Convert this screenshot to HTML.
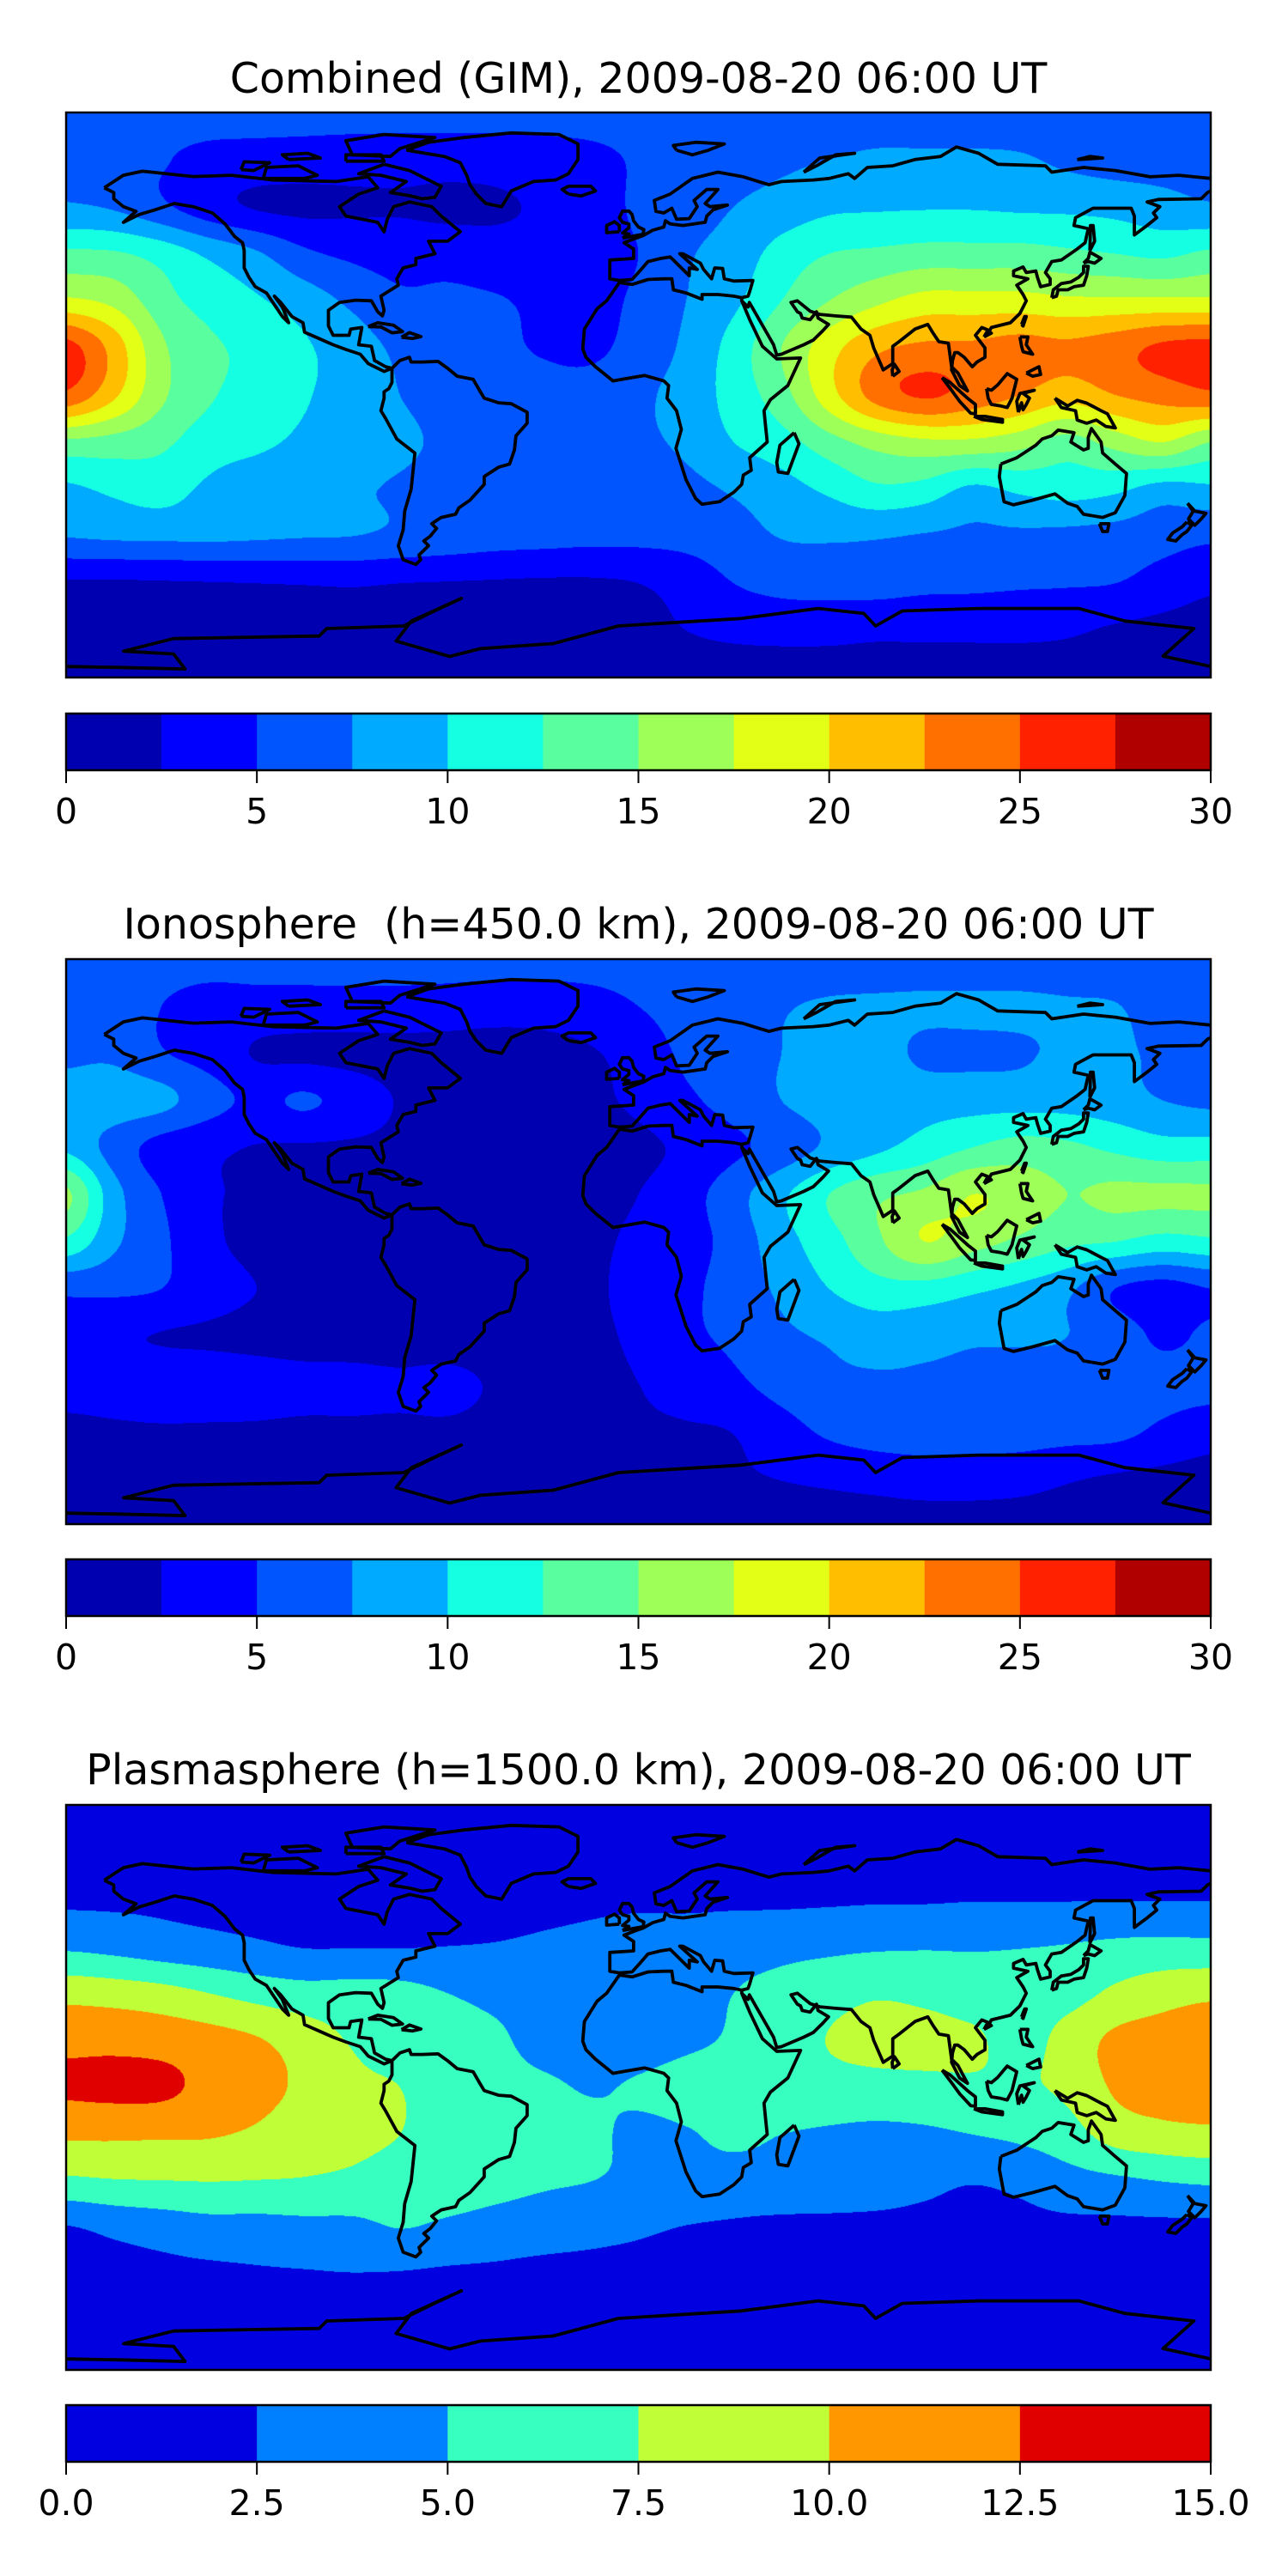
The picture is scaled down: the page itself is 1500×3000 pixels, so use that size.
<!DOCTYPE html>
<html>
<head>
<meta charset="utf-8">
<style>
  html,body{margin:0;padding:0;background:#fff;}
  #root{position:relative;width:1500px;height:3000px;overflow:hidden;background:#fff;}
  canvas{position:absolute;}
  svg{position:absolute;left:0;top:0;}
</style>
</head>
<body>
<div id="root">
  <canvas id="c0"></canvas>
  <canvas id="c1"></canvas>
  <canvas id="c2"></canvas>
  <svg id="ov" width="1500" height="3000" xmlns="http://www.w3.org/2000/svg">
    <text x="743.5" y="108" text-anchor="middle" font-family="DejaVu Sans, Liberation Sans, sans-serif" font-size="49">Combined (GIM), 2009-08-20 06:00 UT</text>
    <text x="743.5" y="1093" text-anchor="middle" font-family="DejaVu Sans, Liberation Sans, sans-serif" font-size="49" xml:space="preserve">Ionosphere  (h=450.0 km), 2009-08-20 06:00 UT</text>
    <text x="743.5" y="2078" text-anchor="middle" font-family="DejaVu Sans, Liberation Sans, sans-serif" font-size="49">Plasmasphere (h=1500.0 km), 2009-08-20 06:00 UT</text>
  </svg>
</div>
<script>
// ---------- data ----------
const lons = [-180,-165,-150,-135,-120,-105,-90,-75,-60,-45,-30,-15,0,15,30,45,60,75,90,105,120,135,150,165,180];
const lats = [90,75,60,45,30,15,0,-15,-30,-45,-60,-75,-90];

const combinedTec = [
 [6,6,6,6,6,6,6,6,6,6,6,6,6,6,6,6,6,6,6,6,6,6,6,6,6],
 [6.5,6,5.2,4.3,4,3.8,3.6,3.5,3.5,3.5,3.8,4.3,5.3,6,6.5,7,7.5,8,8,8,7.8,7,6.5,6.5,6.5],
 [7.8,7.2,5.5,3.5,2.3,2,2.2,2.3,2,2.2,2.8,3.5,5.5,6.5,7.5,8.5,9.5,9.7,9.8,9.8,9.6,9.5,9.2,8.5,7.8],
 [13,12.8,11.5,9.5,7.8,5.5,4.5,4,4,3.5,3.5,4,5,7.2,8.5,11,12.5,13,13.5,13.5,13.5,13,12.5,12,13],
 [18,16.8,13.5,11.5,10.3,8.8,7,5.5,5.5,5.2,4.5,4.2,5.5,7.5,9.5,12.5,15,17,18.5,18.5,18.5,18,18,18,18],
 [26,21.5,15.5,13,11.8,10.3,8.7,7,6,5.5,4.8,4.5,6,8,11,15,19,22,23,23,23.5,23,24,25.5,26],
 [24.5,20.5,15.5,12.8,11.5,10.2,9,7.5,6.5,6,5.8,6,7,8.5,11,14,19,23.5,25.3,24,22.5,21,22.5,23.5,24.5],
 [14.5,14,13,11.2,10.5,9.5,8.6,8,7,6.5,6,6.3,7,8,10,11.5,14,16,17,17,16,14,16,17.5,15],
 [9.5,10.5,11,9.5,8.5,8,7.8,7.2,6.5,6,5.8,5.8,6,6.8,7.8,9,10.5,12,11.5,9.5,10.5,11,10.5,9,9.5],
 [7.6,7.9,8,8,7.8,7.6,7.5,7,6.5,6,5.8,5.6,5.6,5.8,6.5,7.6,7.8,7.7,7.3,7,7,6.8,6.5,6,5.5],
 [2.2,2.2,2.3,2.4,2.5,2.6,2.7,2.5,2.4,2.3,2.2,2.2,2.5,3.5,5,5.8,6,6,5.6,5.5,5.3,5.2,5,4,3],
 [1.5,1.5,1.6,1.8,2,2,2,2,1.8,1.8,1.8,1.8,1.8,2.5,3,3.2,3.2,3,3,3,3,2.8,2.2,1.8,1.5],
 [1.5,1.5,1.5,1.5,1.5,1.5,1.5,1.5,1.5,1.5,1.5,1.5,1.5,1.5,1.5,1.5,1.5,1.5,1.5,1.5,1.5,1.5,1.5,1.5,1.5]
];

const ionoTec = [
 [6,6,6,6,6,6,6,6,6,6,6,6,6,6,6,6,6,6,6,6,6,6,6,6,6],
 [6,6,5,4,4,4,4,4,3.8,3.5,3.5,4,5,6,6.5,7.3,7.8,8,8,8,8,7.8,7.6,6.5,6],
 [7,7,5.2,4,2.3,2,1.8,1.7,1.6,1.6,1.8,2.3,3.5,5.5,6.5,7.5,8,8.5,7,7,7.2,8,8,7,7],
 [8.6,8.8,8.2,6,4.5,5.3,4,2.3,1.5,1.5,1.5,2,3,4.5,6,7.5,8.5,9,9,9,9,9,8.5,7.5,7],
 [9.5,6.5,4,3,2.4,2.3,2.2,2,1.5,1.5,1.5,1.5,2,3,4.5,6,8,9.5,11,12.5,13.5,13,12,11,11],
 [15.5,8.5,5,2.8,2.3,2.2,2,2,1.5,1.5,1.5,1.8,2.5,4,6.5,9.5,12.5,14.5,15.5,17.5,16.5,15,15.5,15.5,15.5],
 [12,8,5.5,3,2,2,2,2,1.5,1.5,1.5,2,3,4,6,9,11.5,14.5,17.5,16,14.5,13,12.5,11.5,12],
 [5.5,5.5,5,3.5,2.5,2.2,2,1.7,1.6,1.6,1.7,2,3.5,4.5,6,8,10,11.5,11.5,10.5,9.5,8,5,4,5],
 [4.5,3,2.4,2.2,2,1.8,1.7,1.6,1.5,1.5,1.7,2,3,4.5,5.5,7,7.8,8.5,8.2,7.8,7.7,7.5,6.5,4.5,5.5],
 [3.5,3.5,3.8,3.5,3.2,3,3,2.8,3,2.3,2,2,2.5,3.5,4.5,6,7,7.2,7.2,7.2,7.2,7,6.5,6,6],
 [2,2.2,2.3,2.3,2.3,2.2,2.2,2.2,2.2,2,2,2,2.2,2.3,2.6,4,5.5,6.2,6.3,6.2,6.2,6,5.8,4.5,3.5],
 [1.5,1.5,1.5,1.5,1.5,1.5,1.5,1.5,1.5,1.5,1.5,1.5,1.6,1.8,2.2,2.6,3,3.4,3.8,3.8,3.5,2.8,2.3,2,1.8],
 [1.5,1.5,1.5,1.5,1.5,1.5,1.5,1.5,1.5,1.5,1.5,1.5,1.5,1.5,1.5,1.5,1.5,1.5,1.5,1.5,1.5,1.5,1.5,1.5,1.5]
];

const plasmaTec = [
 [1.5,1.5,1.5,1.5,1.5,1.5,1.5,1.5,1.5,1.5,1.5,1.5,1.5,1.5,1.5,1.5,1.5,1.5,1.5,1.5,1.5,1.5,1.5,1.5,1.5],
 [1.5,1.5,1.5,1.5,1.5,1.5,1.5,1.5,1.5,1.5,1.5,1.5,1.5,1.5,1.5,1.5,1.5,1.5,1.5,1.5,1.5,1.5,1.5,1.5,1.5],
 [2.1,2.1,2.1,2,2,1.9,1.9,1.9,1.9,1.9,2,2.1,2.1,2.1,2.1,2.1,2.2,2.3,2.3,2.4,2.4,2.4,2.4,2.4,2.4],
 [4.6,4.2,3.6,3.2,2.8,2.4,2.4,2.4,2.5,2.6,2.8,3,3.5,3.5,4,4.3,4.5,4.7,4.8,4.8,4.9,5.1,5.5,5.7,5.6],
 [9.2,8.9,8.4,7.5,6.6,6,6,5.8,5,4.3,4,3.5,3.5,4,5,5.7,6.5,7.2,6.8,6,6,6.5,8,9,9.5],
 [11.8,11.8,11.5,11,10.2,8.8,7.3,6.5,6.2,5.5,4,3.5,3.7,4.5,5.3,6.2,7.6,8.5,8.5,8,6.5,8.5,10.5,11,11.5],
 [12.9,13.1,13,11.8,10.8,9.5,8,7.5,6.5,6,5.5,4.8,5.3,6,6.3,6.5,6.5,6.5,6.7,7,7.2,8,10.3,11,11],
 [10.4,10.4,10.3,10.2,9.6,8.5,8,7.5,6.5,6.5,6,5.5,4.5,4.8,5.5,5,4.7,4.5,4.6,5,5.5,6.5,8.5,9.2,9.5],
 [7,7.3,7.4,7.5,7.4,7.3,7,6.5,6.2,5.8,5.3,5,4.5,4.3,4,4,3.8,3.5,3,2.6,3,4,4.5,5,5.3],
 [2.3,3,3.5,4,4,4.2,4.3,5,4.5,4,3.6,3.2,2.8,2.4,2.2,2,2,2,2,2,2,2,2,2,2],
 [1.8,1.8,1.9,2,2.2,2.3,2.4,2.3,2.1,2,1.8,1.8,1.8,1.8,1.8,1.8,1.8,1.8,1.8,1.8,1.8,1.8,1.8,1.8,1.8],
 [1.5,1.5,1.5,1.5,1.5,1.5,1.5,1.5,1.5,1.5,1.5,1.5,1.5,1.5,1.5,1.5,1.5,1.5,1.5,1.5,1.5,1.5,1.5,1.5,1.5],
 [1.5,1.5,1.5,1.5,1.5,1.5,1.5,1.5,1.5,1.5,1.5,1.5,1.5,1.5,1.5,1.5,1.5,1.5,1.5,1.5,1.5,1.5,1.5,1.5,1.5]
];

const levelsA = [0,2.5,5,7.5,10,12.5,15,17.5,20,22.5,25,27.5,30];
const levelsB = [0,2.5,5,7.5,10,12.5,15];
const ticksA = [0,5,10,15,20,25,30];
const tickLabelsA = ['0','5','10','15','20','25','30'];
const ticksB = [0,2.5,5,7.5,10,12.5,15];
const tickLabelsB = ['0.0','2.5','5.0','7.5','10.0','12.5','15.0'];

// coastlines (lon, lat pairs)
const coastlines = [
 [-168,66,-162,70,-156,71.3,-140,69.6,-128,70,-115,68.5,-95,68,-85,69.5,-82,66,-88,64,-94,60,-92,57,-82,55,-80,52,-79,56,-77,60,-72,61.5,-65,60,-62,57,-56,52,-60,49,-66,49,-64,45,-70,43.5,-70,41.5,-74,40.5,-76,37,-75.5,35,-81,31.5,-80,27,-80.5,25.2,-82,26.5,-84,30,-89,30.2,-94,29.5,-97.5,27,-97.5,22,-96,19,-91,19,-90.5,21,-87,21.5,-88,16,-84,15.5,-83,11,-79.5,9,-77.5,8.5,-80,7.5,-85,10,-87.5,13,-92,14.5,-96,16,-105,20,-105.5,23,-109,25,-112.5,29.5,-114.5,31.5,-112,28,-110,23,-112,25,-114,28,-117,32.5,-120.5,34.5,-122.5,37.5,-124,40.5,-124,46,-124.5,48.5,-127,50.5,-130,54.5,-134,58,-140,60,-146,61,-152,59,-157,57.5,-162,55,-158,58.5,-162,60,-165,62.5,-165,64.5,-168,66],
 [-77.5,8.5,-75,11,-72,12,-71.5,10.5,-68,10.5,-63,10.7,-60,8.5,-57,6,-52,5,-50,1.5,-48.5,-1,-44,-2.5,-40,-2.8,-35,-5.5,-35,-9,-38.5,-13,-39,-17.5,-40.5,-22,-44,-23,-48.5,-26,-48.5,-28.5,-53,-33.5,-56.5,-36,-57.5,-38,-62,-39,-65,-41,-63.5,-42.5,-65.5,-45,-67.5,-46.5,-66,-48,-69,-51,-68.5,-52.5,-70,-54,-74,-52.5,-75.5,-48,-74,-43,-73.5,-37,-71.5,-30,-70.3,-18.5,-76,-14,-79.5,-7.5,-81,-5,-80,-1,-80,1,-78.5,2,-77.5,4,-77.5,8.5],
 [-73,78,-66,80.5,-55,82,-40,83.5,-25,83,-19,80,-19,75,-22,70.5,-26,68.5,-33,68,-40,65,-43,60,-48,61,-51,64,-53,67,-54,70,-56,74,-61,76,-73,78],
 [32.5,31,30,31.5,25,32,20,32,20,30.5,15,32.5,11,33.5,10.5,37,8,37,3,36.8,-2,35.2,-6,35.8,-10,30,-13,27.5,-17,21,-17.5,14.7,-16.5,12,-13.5,9,-8,4.5,-4,5.2,2,6.2,8,4.5,9.5,3,9,-1,12,-5,13.5,-11,11.8,-17,15,-27,18,-33,20,-34.8,25.5,-34,30,-31,32.5,-28.5,33,-25.5,35.5,-24,35,-20,40.5,-15,40,-10,39.5,-5,41.5,-1.5,47,3,51,11.8,43.5,11.5,39,15.5,35,24,32.5,30,32.5,31],
 [32.5,31,34.5,31.5,35,33,36,36.5,30,36.3,27,37,26.5,40.3,24,40.5,23,37,20.5,40,19.5,42,14,45,13,45,18.5,40,16,40.5,16,38,12,42,10,44,7,43.5,3,42.5,0,39,-2,36.8,-6,36.5,-9,37,-9,43,-1.5,43.5,-1.5,46.5,-4.5,48.5,-1.5,49.7,1.5,50.8,4.5,52.5,8,53.5,8.5,55.5,10,54.5,14,54,21,55,21.5,57,23.5,59,28,60.5,22.5,60,21,61,25,65.5,21.5,65.5,17.5,62,18.5,60,16,56.2,12,56,10.5,59.5,8,58,5.5,58.5,5,62,10,64,17,69,25,71,33,69.5,41,67,45,68,55,68.5,60,69,66,70.5,68,69,72,72.5,80,73,87,75,95,76,100,79,107,77,113,73.5,128,73,130,71,140,72.5,150,71.5,161,69.5,170,70,180,69],
 [180,65,179,64.5,177,62.5,163.5,62.3,160,61.5,164,60,162,58,163,56.5,160,54,156,51,156,57,155,59.5,150,59.5,143,59.5,137.5,56.5,137,54,141.5,53,140.5,48.5,138,46.5,133,43,130,42.5,128,39,129.5,37,129.5,35.2,126.5,34.5,125.5,37.5,125,39.5,122,39,121,40.8,118,39.5,118,38,122.5,37,119,35,121,32,122,30,120,26,117,23,111,21.5,110.5,20.5,108,21.5,106,19,109,15,109,12,106.5,10.5,105,9,102.5,12,100.5,13.5,99.5,13.5,98.8,11,98.5,8,101,3,103.5,1.3,100.5,7,98.5,9,97.5,16.5,94.5,17,92.5,20,91,22.5,87,21,82,17,80,15.5,80,10,77,8,74,15,72.8,19,70,21,67,24.8,62,25.2,57,25.7,54,26.7,50,30,48,29.5,50,26.5,51,26,51.5,24.5,54,24,56,26.5,56.5,24.5,59.8,22.5,58,20.5,55,17.5,52,16,45,13,43.5,12.7,42.5,16,38,24,34.9,29.5,34.5,28,32.5,30],
 [-5,50,1.5,51.2,1.7,52.7,0,53.5,-1.5,55.5,-2,57.5,-3,58.6,-5,58.6,-6,56.5,-5,55,-3,54.5,-3,53.3,-4.5,52,-5,51.6,-3,51.3,-5,50],
 [-6,52,-6,54,-7.5,55.2,-10,54,-10,51.7,-6,52],
 [-22,64,-24,65.5,-22,66.5,-15,66.5,-13.5,65,-18,63.4,-22,64],
 [49,-12,50.5,-15.5,47,-25,44,-24.5,43.5,-21.5,44.5,-16,49,-12],
 [114,-22,113.5,-26,115,-34,118,-35,124,-33.5,131,-31.5,135,-34.5,138,-35.5,140,-38,146,-39,150,-37.5,153,-32,153.5,-25,150,-22,146,-18.5,145.5,-15,142.5,-10.7,141.5,-13.5,141.5,-17,140,-17.5,136,-15,137,-12,132,-11.2,130,-13,127,-14,125,-16,122,-18,119,-20,114,-22],
 [145,-41,148,-41,147.5,-43.5,146,-43.5,145,-41],
 [172.7,-34.5,175,-37,178.5,-37.7,177,-39.5,175,-41.5,173,-39.5,174.5,-37,172.7,-34.5],
 [172.5,-40.5,174,-41.5,172.5,-43.5,171,-44.5,169,-46.5,166.5,-46,168,-44,171,-42,172.5,-40.5],
 [130,31,131.5,31.5,132,33.5,135,33.5,137,34.5,140,35,141,38,141.5,41,140,41,140,39,138.5,37.5,136,36,133,35.5,130.5,33.5,130,31],
 [140,42,141.5,42.5,143.5,42,145.5,43.5,142,45.5,141.5,43.5,140,42],
 [142,46,143.5,49,143,54,142.2,54,142,46],
 [95.5,5.5,98,4,103.5,-1,106,-3,106,-6,104.5,-5.8,101,-2,98.5,1.5,95.5,5.5],
 [105.5,-6.8,109,-6.8,114.5,-7.8,114.5,-8.7,108,-7.8,105.5,-6.8],
 [109.5,2,111,1.5,113,3.2,116,6.8,119,5,118,1,117.5,-1,116,-4,114,-3.5,111,-3,110,-1,109.5,2],
 [119.5,-5.5,119,-2,120,0.5,124.5,1.5,121,0.5,123,-1,122,-3,121,-4.7,120.5,-2.5,119.5,-5.5],
 [131,-1,135,-3.5,138,-1.7,141,-2.6,145.5,-5,147.5,-6,150,-10.5,147,-10,144,-8,141,-9,138,-8,137.5,-5,133,-4,132,-2.5,131,-1],
 [120,18.5,122.5,18.5,122,16,124,13,121,13.8,120.5,15.5,120,18.5],
 [122,7,126,9,126.5,6.5,124,6,122,7],
 [120.5,22.5,121.5,25,122,25,121,22,120.5,22.5],
 [80,6,82,7.5,80.5,9.8,79.8,8,80,6],
 [108.7,18.5,111,19.7,110.5,20,109.5,20,108.7,18.5],
 [-85,21.8,-82,23,-77,22.2,-74.2,20.2,-77.5,19.8,-81,21.7,-85,21.8],
 [-74.5,18.4,-72,19.9,-68.4,18.6,-71,18,-74.5,18.4],
 [-80,73.5,-72,71.5,-67,69,-62,66.5,-64,63,-68,62.5,-72,63.5,-78,64.5,-73,68,-81,70,-88,70.5,-80,73.5],
 [-118,69,-105,69,-101,70,-107,73,-117,72.5,-118,69],
 [-90,76.5,-78,76,-75,78.5,-64,82,-80,83,-92,81,-90,76.5],
 [-125,71.8,-121,71.5,-116,74,-124,74.3,-125,71.8],
 [-92,74.5,-80,74.5,-81,76.5,-92,76.5,-92,74.5],
 [-110,75,-100,75.5,-104,77,-112,76.5,-110,75],
 [12,78,17,76.5,22,78,27,80,18,80.5,11,79.5,12,78],
 [52,71,56,73,62,76.5,68,77,57,75.5,52,71],
 [138,75,146,75.5,142,76,138,75],
 [-180,-86.5,-163,-86.8,-142.6,-87.3,-146.2,-82.5,-161.9,-81.6,-146.2,-77.6,-100.4,-76.8,-98,-74.4,-73.8,-73.6,-64.2,-68.8,-55.7,-64.8,-71.4,-72,-76.2,-78.4,-59.4,-83.3,-49.7,-80.8,-26.8,-79.2,-6.3,-73.6,32.3,-71.2,56.5,-68,70.9,-69.6,74.6,-73.6,83,-68.8,107.1,-68,138.5,-68,153,-72,174.7,-74.4,165,-83.2,180,-86.5]
];

// ---------- layout ----------
const MAP_L = 77, MAP_W = 1333, MAP_H = 658, CB_H = 66;
const panels = [
  {id:'c0', top:131, cbTop:831, field:combinedTec, levels:levelsA, ticks:ticksA, labels:tickLabelsA, key:'combined'},
  {id:'c1', top:1117, cbTop:1816, field:ionoTec, levels:levelsA, ticks:ticksA, labels:tickLabelsA, key:'ionosphere'},
  {id:'c2', top:2102, cbTop:2801, field:plasmaTec, levels:levelsB, ticks:ticksB, labels:tickLabelsB, key:'plasmasphere'}
];

function seg(pts, t){
  for(let i=1;i<pts.length;i++){
    if(t<=pts[i][0]){const a=pts[i-1],b=pts[i];return a[1]+(b[1]-a[1])*(t-a[0])/(b[0]-a[0]);}
  }
  return pts[pts.length-1][1];
}
const JR=[[0,0],[0.35,0],[0.66,1],[0.89,1],[1,0.5]];
const JG=[[0,0],[0.125,0],[0.375,1],[0.64,1],[0.91,0],[1,0]];
const JB=[[0,0.5],[0.11,1],[0.34,1],[0.65,0],[1,0]];
function jet(t){return [Math.round(255*seg(JR,t)),Math.round(255*seg(JG,t)),Math.round(255*seg(JB,t))];}
function levelColors(levels){
  const n=levels.length-1, out=[];
  for(let i=0;i<n;i++) out.push(jet((i+0.5)/n));
  return out;
}
function cr(p0,p1,p2,p3,t){return p1+0.5*t*(p2-p0+t*(2*p0-5*p1+4*p2-p3+t*(3*(p1-p2)+p3-p0)));}

function sampleField(field, lon, lat){
  const nr=lats.length, nc=lons.length;
  const fy=(lats[0]-lat)/(lats[0]-lats[nr-1])*(nr-1);
  const fx=(lon-lons[0])/(lons[nc-1]-lons[0])*(nc-1);
  const iy=Math.min(nr-2,Math.max(0,Math.floor(fy))), ix=Math.min(nc-2,Math.max(0,Math.floor(fx)));
  const ty=fy-iy, tx=fx-ix;
  const col=[];
  for(let k=-1;k<=2;k++){
    const r=field[Math.min(nr-1,Math.max(0,iy+k))];
    const g=j=>r[Math.min(nc-1,Math.max(0,j))];
    col.push(cr(g(ix-1),g(ix),g(ix+1),g(ix+2),tx));
  }
  return cr(col[0],col[1],col[2],col[3],ty);
}

const xOf = lon => MAP_L + (lon+180)/360*MAP_W;
const yOf = (lat,top) => top + (90-lat)/180*MAP_H;

const svg=document.getElementById('ov');
const NS='http://www.w3.org/2000/svg';
function mk(tag, attrs){const e=document.createElementNS(NS,tag);for(const k in attrs)e.setAttribute(k,attrs[k]);return e;}

panels.forEach((p,pi)=>{
  const cv=document.getElementById(p.id);
  cv.width=MAP_W; cv.height=MAP_H;
  cv.style.left=MAP_L+'px'; cv.style.top=p.top+'px';
  const ctx=cv.getContext('2d');
  const img=ctx.createImageData(MAP_W,MAP_H);
  const cols=levelColors(p.levels);
  const L=p.levels, n=L.length-1;
  for(let y=0;y<MAP_H;y++){
    const lat=90-(y+0.5)/MAP_H*180;
    for(let x=0;x<MAP_W;x++){
      const lon=-180+(x+0.5)/MAP_W*360;
      const v=sampleField(p.field,lon,lat);
      let b=0; while(b<n-1 && v>=L[b+1]) b++;
      const c=cols[b], o=(y*MAP_W+x)*4;
      img.data[o]=c[0];img.data[o+1]=c[1];img.data[o+2]=c[2];img.data[o+3]=255;
    }
  }
  ctx.putImageData(img,0,0);

  const clip=mk('clipPath',{id:'clip'+pi});
  clip.appendChild(mk('rect',{x:MAP_L,y:p.top,width:MAP_W,height:MAP_H}));
  svg.appendChild(clip);
  const g=mk('g',{'clip-path':'url(#clip'+pi+')'});
  
  
  coastlines.forEach(arr=>{
    let d='';
    for(let i=0;i<arr.length;i+=2){d+=(i?'L':'M')+xOf(arr[i]).toFixed(1)+' '+yOf(arr[i+1],p.top).toFixed(1);}
    const path=mk('path',{d:d,fill:'none',stroke:'#000','stroke-width':3.8,'stroke-linejoin':'round'});
    
    
    g.appendChild(path);
  });
  svg.appendChild(g);
  const frame=mk('rect',{x:MAP_L,y:p.top,width:MAP_W,height:MAP_H,fill:'none',stroke:'#000','stroke-width':2.5});
  
  
  svg.appendChild(frame);

  const cg=mk('g',{});
  
  
  const vmin=L[0], vmax=L[n];
  const cx=v=>MAP_L+(v-vmin)/(vmax-vmin)*MAP_W;
  for(let i=0;i<n;i++){
    const c=cols[i];
    const r=mk('rect',{x:cx(L[i]).toFixed(2),y:p.cbTop,width:(cx(L[i+1])-cx(L[i])+0.6).toFixed(2),height:CB_H,fill:'rgb('+c.join(',')+')'});
    
    
    cg.appendChild(r);
  }
  cg.appendChild(mk('rect',{x:MAP_L,y:p.cbTop,width:MAP_W,height:CB_H,fill:'none',stroke:'#000','stroke-width':2.5}));
  p.ticks.forEach((t,i)=>{
    const x=cx(t);
    const tk=mk('line',{x1:x,x2:x,y1:p.cbTop+CB_H,y2:p.cbTop+CB_H+15,stroke:'#000','stroke-width':2});
    
    
    cg.appendChild(tk);
    const tx=mk('text',{x:x,y:p.cbTop+CB_H+62,'text-anchor':'middle','font-family':'DejaVu Sans, Liberation Sans, sans-serif','font-size':41});
    tx.textContent=p.labels[i];
    
    
    cg.appendChild(tx);
  });
  svg.appendChild(cg);
});
</script>
</body>
</html>
